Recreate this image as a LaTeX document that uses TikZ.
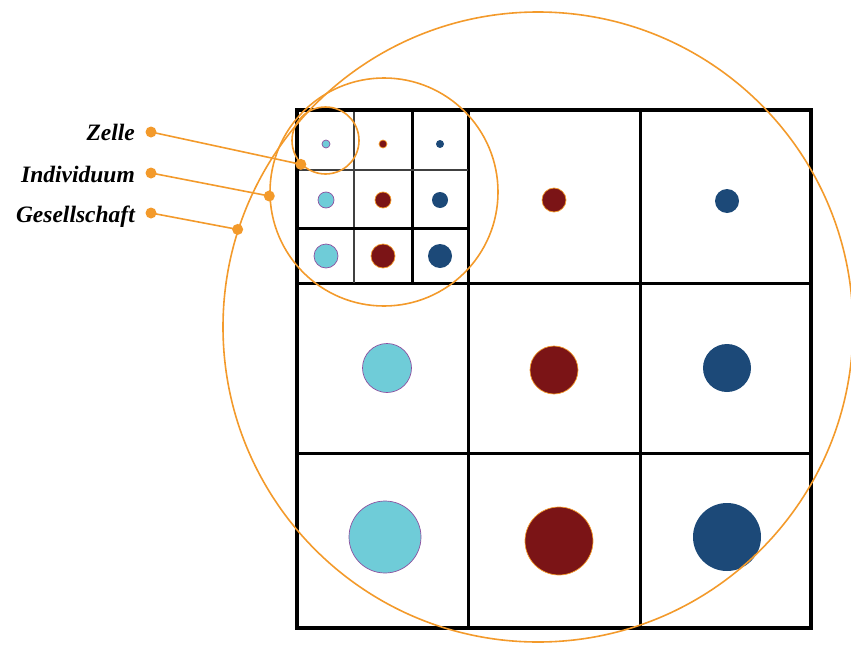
\documentclass[tikz,border=0pt]{standalone}
\usepackage{fontspec}
\setmainfont{Liberation Serif}
\usepackage{tikz}

\definecolor{orangeG}{RGB}{243,154,43}
\definecolor{cyanG}{RGB}{111,204,216}
\definecolor{rougeG}{RGB}{123,20,22}
\definecolor{bleuG}{RGB}{28,73,120}
\definecolor{violetG}{RGB}{140,80,160}

\begin{document}
\begin{tikzpicture}[
    x=1pt, y=-1pt,
    cadre/.style={line width=3.6pt},
    trait/.style={line width=3pt},
    fin/.style={line width=2.4pt, black!75},
    anneau/.style={circle, draw=orangeG, line width=1.6pt, inner sep=0pt},
    point/.style={circle, fill=orangeG, inner sep=0pt, minimum size=11pt},
    lien/.style={draw=orangeG, line width=1.6pt},
    etiquette/.style={anchor=base east, inner sep=0pt,
      font=\fontsize{23.5}{28}\selectfont\bfseries\itshape},
    bulleC/.style={circle, fill=cyanG, draw=violetG, line width=0.7pt, inner sep=0pt},
    bulleR/.style={circle, fill=rougeG, draw=orangeG, line width=0.7pt, inner sep=0pt},
    bulleB/.style={circle, fill=bleuG, inner sep=0pt},
  ]
  \useasboundingbox (0,0) rectangle (851,645);

  % grande grille
  \draw[trait] (468,110) -- (468,628);
  \draw[trait] (640,110) -- (640,628);
  \draw[trait] (297,283) -- (811,283);
  \draw[trait] (297,453) -- (811,453);
  % petite grille dans la premiere case
  \draw[fin] (354,110) -- (354,283);
  \draw[trait] (412,110) -- (412,283);
  \draw[fin] (297,170) -- (468,170);
  \draw[trait] (297,228) -- (468,228);
  \draw[cadre] (297,110) rectangle (811,628);

  % bulles de la petite grille
  \foreach \y/\d [count=\i] in {144/8, 200/16, 256/24} {
    \node[bulleC, minimum size=\d pt] (pc\i) at (326,\y) {};
    \node[bulleR, minimum size=\d pt] (pr\i) at (383,\y) {};
    \node[bulleB, minimum size=\d pt] (pb\i) at (440,\y) {};
  }

  % bulles de la grande grille
  \node[bulleR, minimum size=24pt] (gr1) at (554,200) {};
  \node[bulleB, minimum size=24pt] (gb1) at (727,201) {};
  \node[bulleC, minimum size=49pt] (gc2) at (387,368) {};
  \node[bulleR, minimum size=48pt] (gr2) at (554,370) {};
  \node[bulleB, minimum size=48pt] (gb2) at (727,368) {};
  \node[bulleC, minimum size=72pt] (gc3) at (385,537) {};
  \node[bulleR, minimum size=68pt] (gr3) at (559,541) {};
  \node[bulleB, minimum size=68pt] (gb3) at (727,537) {};

  % les trois niveaux
  \node[anneau, minimum size=67pt] (zelle) at (325.5,140.5) {};
  \node[anneau, minimum size=228pt] (indiv) at (384,192) {};
  \node[anneau, minimum size=630pt] (gesell) at (538,327) {};

  \node[etiquette] (tZelle) at (135,140) {Zelle};
  \node[etiquette] (tIndiv) at (135,182) {Individuum};
  \node[etiquette] (tGesell) at (135,222) {Gesellschaft};

  \node[point] (dZelle) at (151,132) {};
  \node[point] (dIndiv) at (151,173) {};
  \node[point] (dGesell) at (151,213) {};
  \node[point] (eZelle) at (zelle.224) {};
  \node[point] (eIndiv) at (indiv.182) {};
  \node[point] (eGesell) at (gesell.162) {};

  \draw[lien] (dZelle.center) -- (eZelle.center);
  \draw[lien] (dIndiv.center) -- (eIndiv.center);
  \draw[lien] (dGesell.center) -- (eGesell.center);
\end{tikzpicture}
\end{document}
